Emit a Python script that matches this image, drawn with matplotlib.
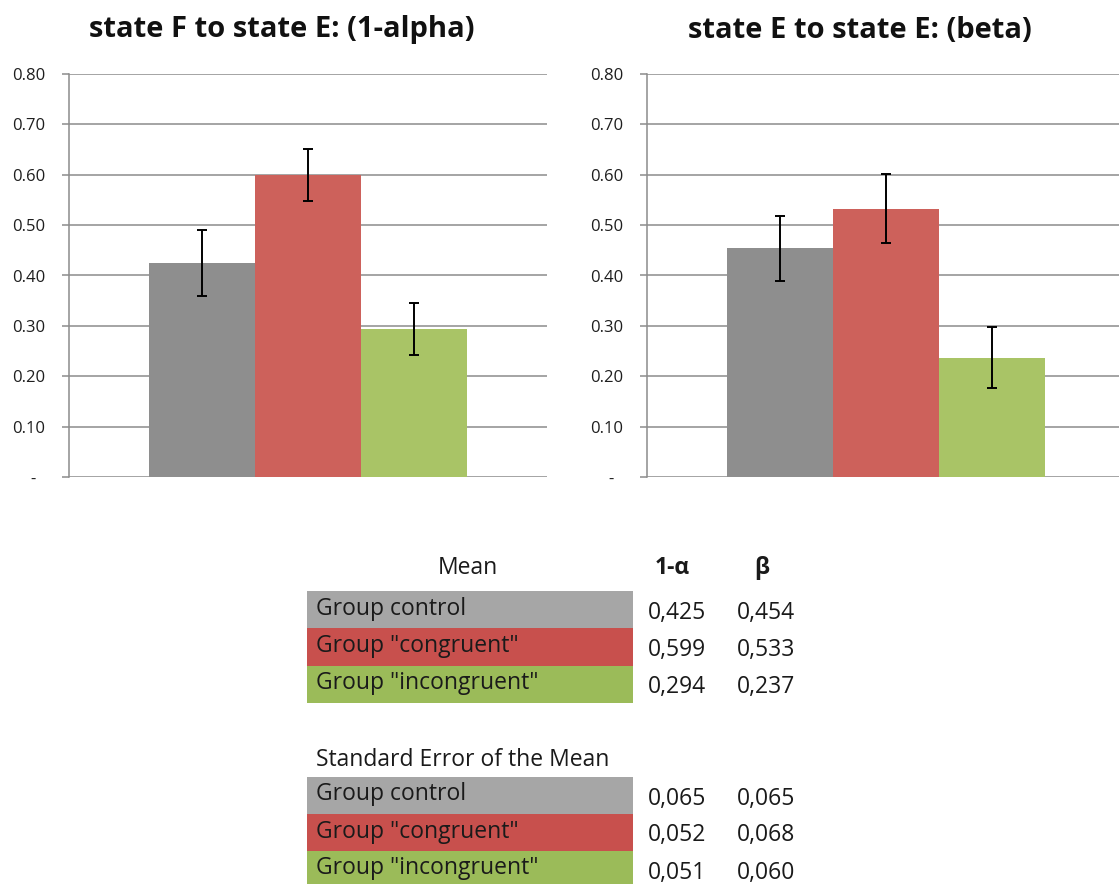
import matplotlib
matplotlib.use("Agg")
import matplotlib.pyplot as plt
from matplotlib.patches import Rectangle
from matplotlib.ticker import FuncFormatter

plt.rcParams['font.family'] = ['Open Sans', 'DejaVu Sans']

# data
groups = ['Group control', 'Group "congruent"', 'Group "incongruent"']
mean_alpha = [0.425, 0.599, 0.294]
mean_beta = [0.454, 0.533, 0.237]
sem_alpha = [0.065, 0.052, 0.051]
sem_beta = [0.065, 0.068, 0.060]
titles = ['state F to state E: (1-alpha)', 'state E to state E: (beta)']
col_headers = ['1-\u03b1', '\u03b2']
yticks = [0, 0.1, 0.2, 0.3, 0.4, 0.5, 0.6, 0.7, 0.8]

bar_colors = ['#8e8e8e', '#cd615b', '#a9c466']
cell_colors = ['#a6a6a6', '#c8504d', '#9bbb59']
grid_col = '#8c8c8c'

W, H = 1119, 884
fig = plt.figure(figsize=(W / 100, H / 100), dpi=100)


def fx(px):
    return px / W


def fy(py):
    return 1 - py / H


def draw_chart(x_left, means, errs, title, title_x):
    ax = fig.add_axes([fx(x_left), fy(477), fx(478), 403 / H])
    xs = [-1, 0, 1]
    ax.bar(xs, means, width=1.0, color=bar_colors, zorder=2)
    ax.errorbar(xs, means, yerr=errs, fmt='none', ecolor='black',
                elinewidth=1.4, capsize=3.5, capthick=1.4, zorder=3)
    ax.set_xlim(-2.25, 2.25)
    ax.set_ylim(0, 0.8)
    ax.set_yticks(yticks)
    # excel accounting style: zero shows as a dash
    ax.yaxis.set_major_formatter(FuncFormatter(
        lambda v, p: '-  ' if abs(v) < 1e-9 else f'{v:.2f}'))
    ax.tick_params(axis='y', length=5, width=1.1, color=grid_col,
                   pad=12, labelsize=12, labelcolor='#1e1e1e')
    ax.set_xticks([])
    ax.grid(axis='y', color=grid_col, linewidth=1.1, zorder=0)
    ax.set_axisbelow(True)
    for s in ['top', 'right', 'bottom']:
        ax.spines[s].set_visible(False)
    ax.spines['left'].set_color(grid_col)
    ax.spines['left'].set_linewidth(1.1)
    fig.text(fx(title_x), fy(30), title, ha='center', va='center',
             fontsize=21, fontweight='bold', color='#111111')
    return ax


draw_chart(69, mean_alpha, sem_alpha, titles[0], 282)
draw_chart(647, mean_beta, sem_beta, titles[1], 860)

# table of values drawn in pixel space
tab = fig.add_axes([0, 0, 1, 1])
tab.set_xlim(0, W)
tab.set_ylim(H, 0)
tab.axis('off')

txt_kw = dict(fontsize=16.5, color='#1a1a1a', va='center')


def draw_block(top, row_h, col_a, col_b):
    for i, g in enumerate(groups):
        y0 = top + i * row_h
        tab.add_patch(Rectangle((307, y0), 326, row_h, facecolor=cell_colors[i],
                                edgecolor='none'))
        tab.text(316, y0 + row_h / 2 - 1, g, ha='left', **txt_kw)
        tab.text(648, y0 + row_h / 2 + 3, f'{col_a[i]:.3f}'.replace('.', ','),
                 ha='left', **txt_kw)
        tab.text(737, y0 + row_h / 2 + 3, f'{col_b[i]:.3f}'.replace('.', ','),
                 ha='left', **txt_kw)


tab.text(468, 568, 'Mean', ha='center', **txt_kw)
tab.text(672, 568, col_headers[0], ha='center', fontsize=16.5, fontweight='bold',
         color='#1a1a1a', va='center')
tab.text(762, 568, col_headers[1], ha='center', fontsize=16.5, fontweight='bold',
         color='#1a1a1a', va='center')
draw_block(591, 37.3, mean_alpha, mean_beta)

tab.text(316, 760, 'Standard Error of the Mean', ha='left', **txt_kw)
draw_block(777, 37, sem_alpha, sem_beta)

fig.savefig('out.png', dpi=100, facecolor='white')
